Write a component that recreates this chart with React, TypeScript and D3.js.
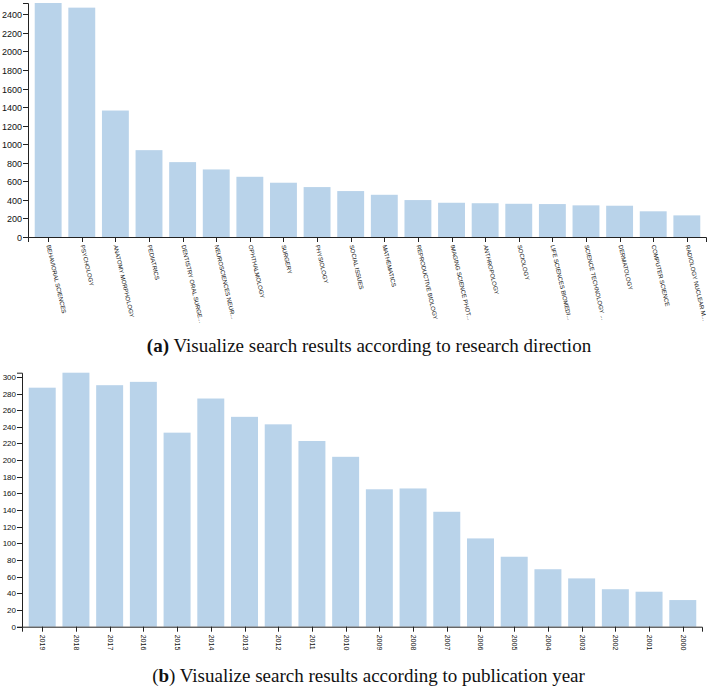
import React from "react";
import * as d3 from "d3";

const directionCategories = [
  "BEHAVIORAL SCIENCES",
  "PSYCHOLOGY",
  "ANATOMY MORPHOLOGY",
  "PEDIATRICS",
  "DENTISTRY ORAL SURGE...",
  "NEUROSCIENCES NEUR...",
  "OPHTHALMOLOGY",
  "SURGERY",
  "PHYSIOLOGY",
  "SOCIAL ISSUES",
  "MATHEMATICS",
  "REPRODUCTIVE BIOLOGY",
  "IMAGING SCIENCE PHOT...",
  "ANTHROPOLOGY",
  "SOCIOLOGY",
  "LIFE SCIENCES BIOMEDI...",
  "SCIENCE TECHNOLOGY ...",
  "DERMATOLOGY",
  "COMPUTER SCIENCE",
  "RADIOLOGY NUCLEAR M...",
];
const directionValues = [2522, 2472, 1363, 936, 807, 728, 649, 585, 538, 495, 455, 398, 369, 364, 358, 355, 341, 337, 277, 233];
const directionTicks = [0, 200, 400, 600, 800, 1000, 1200, 1400, 1600, 1800, 2000, 2200, 2400];

const yearCategories = ["2019", "2018", "2017", "2016", "2015", "2014", "2013", "2012", "2011", "2010", "2009", "2008", "2007", "2006", "2005", "2004", "2003", "2002", "2001", "2000"];
const yearValues = [287, 305, 290, 294, 233, 274, 252, 243, 223, 204, 165, 166, 138, 106, 84, 69, 58, 45, 42, 32];
const yearTicks = [0, 20, 40, 60, 80, 100, 120, 140, 160, 180, 200, 220, 240, 260, 280, 300];

const BAR = "#b9d3ea";
const AXIS = "#222";
const SANS = "'Liberation Sans', Arial, sans-serif";
const SERIF = "'Liberation Serif', 'Times New Roman', serif";

type PanelProps = {
  cats: string[];
  vals: number[];
  ticks: number[];
  x0: number;
  x1: number;
  yTop: number;
  yBottom: number;
  tickFont: number;
  labelFont: number;
  labelAngle: number;
};

function Panel({ cats, vals, ticks, x0, x1, yTop, yBottom, tickFont, labelFont, labelAngle }: PanelProps) {
  const x = d3.scaleBand<string>().domain(cats).range([x0, x1]).paddingInner(0.2).paddingOuter(0.2);
  const y = d3.scaleLinear().domain([0, d3.max(vals) as number]).range([yBottom, yTop]);
  return (
    <g>
      {cats.map((c, i) => (
        <rect key={c} x={x(c)} y={y(vals[i])} width={x.bandwidth()} height={yBottom - y(vals[i])} fill={BAR} />
      ))}
      <path d={`M${x0 - 5},${yTop + 0.5}H${x0 + 0.5}V${yBottom + 0.5}H${x0 - 5}`} fill="none" stroke={AXIS} strokeWidth={1} />
      {ticks.map((t) => (
        <g key={t} transform={`translate(0,${Math.round(y(t)) + 0.5})`}>
          <line x1={x0 - 5} x2={x0} stroke={AXIS} />
          <text x={x0 - 6} dy="0.35em" textAnchor="end" fontSize={tickFont} fontFamily={SANS} fill="#111">
            {t}
          </text>
        </g>
      ))}
      <path d={`M${x0 + 0.5},${yBottom + 5}V${yBottom + 0.5}H${x1 - 0.5}V${yBottom + 5}`} fill="none" stroke={AXIS} strokeWidth={1} />
      {cats.map((c) => {
        const cx = Math.round((x(c) as number) + x.bandwidth() / 2) + 0.5;
        return (
          <g key={c} transform={`translate(${cx},${yBottom})`}>
            <line y1={0} y2={5} stroke={AXIS} />
            <text
              transform={`translate(0,8) rotate(${labelAngle})`}
              dy="0.35em"
              textAnchor="start"
              fontSize={labelFont}
              fontFamily={SANS}
              fill="#111"
            >
              {c}
            </text>
          </g>
        );
      })}
    </g>
  );
}

export default function App() {
  return (
    <svg width={708} height={686} style={{ position: "absolute", left: 0, top: 0, background: "#fff" }}>
      <Panel
        cats={directionCategories}
        vals={directionValues}
        ticks={directionTicks}
        x0={28}
        x1={707}
        yTop={3}
        yBottom={237}
        tickFont={9}
        labelFont={6}
        labelAngle={77}
      />
      <text x={369} y={352} textAnchor="middle" fontFamily={SERIF} fontSize={19} fill="#111">
        <tspan fontWeight="bold">(a)</tspan> Visualize search results according to research direction
      </text>
      <Panel
        cats={yearCategories}
        vals={yearValues}
        ticks={yearTicks}
        x0={22}
        x1={703}
        yTop={372.7}
        yBottom={626.7}
        tickFont={8}
        labelFont={7}
        labelAngle={90}
      />
      <text x={368.5} y={682} textAnchor="middle" fontFamily={SERIF} fontSize={19} fill="#111">
        (<tspan fontWeight="bold">b</tspan>) Visualize search results according to publication year
      </text>
    </svg>
  );
}
